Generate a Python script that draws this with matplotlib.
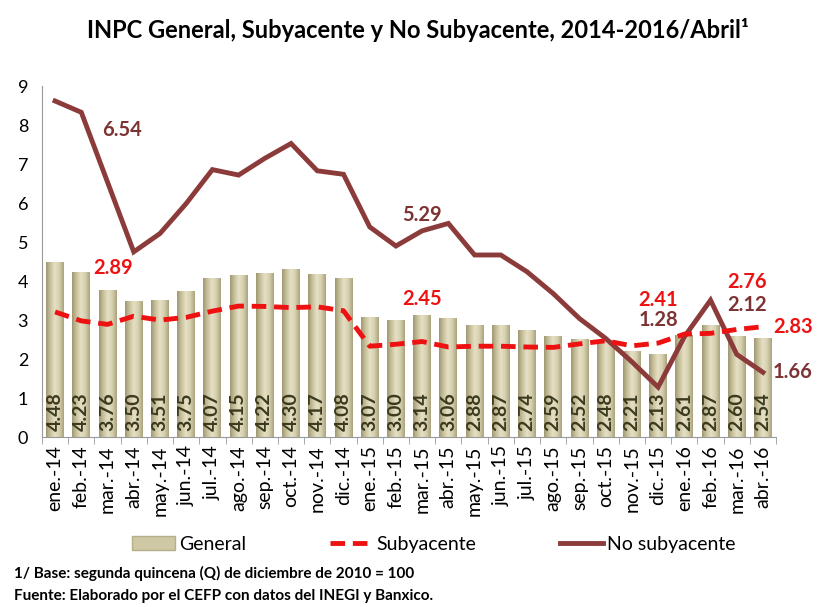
import matplotlib
matplotlib.use("Agg")
import matplotlib.pyplot as plt
import numpy as np
from matplotlib.colors import LinearSegmentedColormap
from matplotlib.lines import Line2D
from matplotlib.patches import Patch

months = ["ene.-14", "feb.-14", "mar.-14", "abr.-14", "may.-14", "jun.-14", "jul.-14",
          "ago.-14", "sep.-14", "oct.-14", "nov.-14", "dic.-14",
          "ene.-15", "feb.-15", "mar.-15", "abr.-15", "may.-15", "jun.-15", "jul.-15",
          "ago.-15", "sep.-15", "oct.-15", "nov.-15", "dic.-15",
          "ene.-16", "feb.-16", "mar.-16", "abr.-16"]

general = [4.48, 4.23, 3.76, 3.50, 3.51, 3.75, 4.07, 4.15, 4.22, 4.30, 4.17, 4.08,
           3.07, 3.00, 3.14, 3.06, 2.88, 2.87, 2.74, 2.59, 2.52, 2.48, 2.21, 2.13,
           2.61, 2.87, 2.60, 2.54]

subyacente = [3.21, 2.98, 2.89, 3.10, 3.00, 3.07, 3.23, 3.36, 3.35, 3.32, 3.34, 3.24,
              2.33, 2.38, 2.45, 2.31, 2.33, 2.33, 2.31, 2.30, 2.39, 2.47, 2.34, 2.41,
              2.64, 2.66, 2.76, 2.83]

no_subyacente = [8.62, 8.33, 6.54, 4.75, 5.22, 5.99, 6.86, 6.72, 7.15, 7.53, 6.83, 6.74,
                 5.39, 4.90, 5.29, 5.48, 4.67, 4.67, 4.24, 3.68, 3.04, 2.53, 1.93, 1.28,
                 2.57, 3.51, 2.12, 1.66]

# labelled points: (index, text)
sub_labels = [(2, "2.89"), (14, "2.45"), (23, "2.41"), (26, "2.76"), (27, "2.83")]
nosub_labels = [(2, "6.54"), (14, "5.29"), (23, "1.28"), (26, "2.12"), (27, "1.66")]

plt.rcParams['font.family'] = ['Lato', 'DejaVu Sans']

fig = plt.figure(figsize=(8.23, 6.07), dpi=100)
ax = fig.add_axes([0.051, 0.280, 0.892, 0.578])

x = np.arange(len(months))
bars = ax.bar(x, general, width=0.68, color='#cfc8a5', edgecolor='none', zorder=2)

cmap = LinearSegmentedColormap.from_list('cyl', ['#9f9872', '#c9c29d', '#e6e1c6', '#d6cfae', '#aaa37d'])
grad = np.linspace(0, 1, 64).reshape(1, -1)
for b in bars:
    x0, w, h = b.get_x(), b.get_width(), b.get_height()
    im = ax.imshow(grad, extent=(x0, x0 + w, 0, h), aspect='auto', cmap=cmap,
                   zorder=2.1, interpolation='bilinear')
    im.set_clip_path(b)

for xi, v in zip(x, general):
    ax.text(xi, 0.15, f"{v:.2f}", rotation=90, ha='center', va='bottom',
            fontsize=14, fontweight='bold', color='#3b3a1e', zorder=4)

ax.plot(x, no_subyacente, color='#8c3b3b', lw=3.5, zorder=3, solid_joinstyle='miter')
ax.plot(x, subyacente, color='#ee1111', lw=3.5, ls=(0, (3, 1.6)), zorder=3.5)

sub_off = {2: (6, 56), 14: (0, 43), 23: (0, 43), 26: (10, 47), 27: (10, 0)}
nos_off = {2: (14, 52), 14: (0, 16), 23: (0, 67), 26: (10, 49), 27: (10, 0)}
for i, t in sub_labels:
    dx, dy = sub_off[i]
    ha = 'left' if i == 27 else 'center'
    ax.annotate(t, (x[i], subyacente[i]), xytext=(dx, dy), textcoords='offset pixels',
                ha=ha, va='center', fontsize=14.5, fontweight='bold', color='#ee1111',
                annotation_clip=False, zorder=5)
for i, t in nosub_labels:
    dx, dy = nos_off[i]
    ha = 'left' if i == 27 else 'center'
    ax.annotate(t, (x[i], no_subyacente[i]), xytext=(dx, dy), textcoords='offset pixels',
                ha=ha, va='center', fontsize=14.5, fontweight='bold', color='#7d3333',
                annotation_clip=False, zorder=5)

ax.set_xlim(-0.5, len(months) - 0.5)
ax.set_ylim(0, 9)
ax.set_yticks(range(0, 10))
ax.tick_params(axis='y', labelsize=13, length=0, pad=10)
ax.set_xticks(x)
ax.set_xticklabels(months, rotation=90, fontsize=14)
ax.tick_params(axis='x', length=0, pad=6)
ax.set_xticks(np.arange(-0.5, len(months) + 0.5, 1), minor=True)
ax.tick_params(axis='x', which='minor', length=5, color='#999999')
for s in ['top', 'right']:
    ax.spines[s].set_visible(False)
ax.spines['left'].set_color('#999999')
ax.spines['bottom'].set_color('#999999')

handles = [Patch(facecolor='#cfc8a5', edgecolor='#b5ae88'),
           Line2D([0], [0], color='#ee1111', lw=3.5, ls=(0, (3, 1.6))),
           Line2D([0], [0], color='#8c3b3b', lw=3.5)]
fig.legend(handles, ["General", "Subyacente", "No subyacente"], loc='center',
           bbox_to_anchor=(0.527, 0.103), ncol=3, frameon=False, fontsize=14,
           columnspacing=4.3, handlelength=2.2, handletextpad=0.2)

fig.text(0.508, 0.950, "INPC General, Subyacente y No Subyacente, 2014-2016/Abril¹",
         ha='center', va='center', fontsize=17, fontweight='bold')
fig.text(0.017, 0.055, "1/ Base: segunda quincena (Q) de diciembre de 2010 = 100",
         ha='left', va='center', fontsize=11, fontweight='bold')
fig.text(0.017, 0.018, "Fuente: Elaborado por el CEFP con datos del INEGI y Banxico.",
         ha='left', va='center', fontsize=11, fontweight='bold')

fig.savefig("out.png", dpi=100)
